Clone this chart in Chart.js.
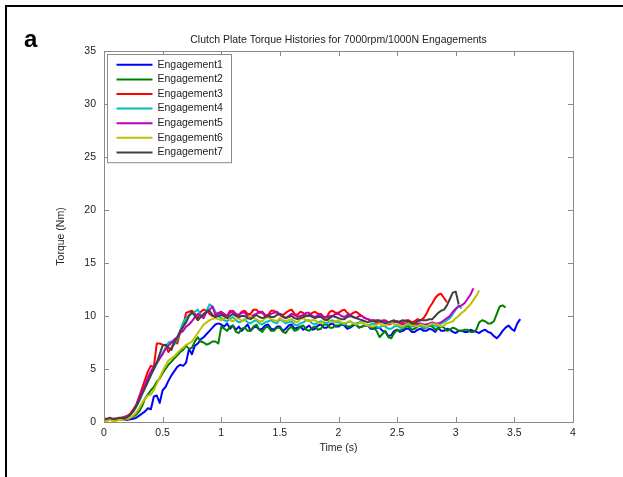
<!DOCTYPE html>
<html><head><meta charset="utf-8">
<script src="https://cdn.jsdelivr.net/npm/chart.js@4/dist/chart.umd.min.js"></script>
<style>html,body{margin:0;padding:0;background:#fff;}canvas{display:block;}</style>
</head><body>
<canvas id="c" width="623" height="477"></canvas>
<script>
// ---- data ----
const time = [0,0.025,0.05,0.075,0.1,0.125,0.15,0.175,0.2,0.225,
0.25,0.275,0.3,0.325,0.35,0.375,0.4,0.425,0.45,0.475,
0.5,0.525,0.55,0.575,0.6,0.625,0.65,0.675,0.7,0.725,
0.75,0.775,0.8,0.825,0.85,0.875,0.9,0.925,0.95,0.975,
1,1.025,1.05,1.075,1.1,1.125,1.15,1.175,1.2,1.225,
1.25,1.275,1.3,1.325,1.35,1.375,1.4,1.425,1.45,1.475,
1.5,1.525,1.55,1.575,1.6,1.625,1.65,1.675,1.7,1.725,
1.75,1.775,1.8,1.825,1.85,1.875,1.9,1.925,1.95,1.975,
2,2.025,2.05,2.075,2.1,2.125,2.15,2.175,2.2,2.225,
2.25,2.275,2.3,2.325,2.35,2.375,2.4,2.425,2.45,2.475,
2.5,2.525,2.55,2.575,2.6,2.625,2.65,2.675,2.7,2.725,
2.75,2.775,2.8,2.825,2.85,2.875,2.9,2.925,2.95,2.975,
3,3.025,3.05,3.075,3.1,3.125,3.15,3.175,3.2,3.225,
3.25,3.275,3.3,3.325,3.35,3.375,3.4,3.425,3.45,3.475,
3.5,3.525,3.55];
const seriesNames = ["Engagement1","Engagement2","Engagement3","Engagement4","Engagement5","Engagement6","Engagement7"];
const eng1 = [0.2,0.25,0.3,0.2,0.2,0.3,0.25,0.2,0.2,0.25,
0.3,0.4,0.6,0.8,1.0,1.3,1.2,2.4,2.5,1.8,
3.0,3.3,3.9,4.4,4.8,5.2,5.4,5.3,5.6,6.9,
6.4,7.2,7.4,7.8,8.0,8.3,8.6,8.9,9.2,9.3,
9.2,9.0,9.3,8.8,9.1,8.7,9.0,8.6,8.9,9.2,
8.6,8.9,9.0,8.7,8.8,9.1,9.2,8.8,8.7,9.0,
9.0,8.6,8.8,9.1,9.2,8.8,8.9,9.0,8.7,8.9,
9.1,8.7,8.8,9.1,9.2,8.9,8.9,9.2,9.3,9.0,
9.0,9.2,9.1,8.8,8.9,9.1,9.2,8.9,9.0,9.1,
9.1,8.8,8.8,8.9,8.9,8.6,8.5,8.1,8.2,8.6,
8.7,8.5,8.6,8.8,8.8,8.5,8.5,8.7,8.8,8.6,
8.6,8.8,8.7,8.5,8.9,8.6,8.6,8.8,8.7,8.5,
8.4,8.6,8.6,8.5,8.5,8.7,8.6,8.5,8.4,8.6,
8.7,8.5,8.4,8.1,7.9,8.2,8.6,8.9,9.1,8.8,
8.6,9.3,9.7];
const eng2 = [0.2,0.2,0.2,0.25,0.3,0.2,0.2,0.3,0.3,0.4,
0.5,0.7,1.0,1.5,2.2,2.6,3.0,3.3,3.8,4.1,
4.6,5.0,5.4,5.7,6.0,6.3,6.6,6.8,7.2,6.9,
7.0,7.6,8.0,7.6,7.5,7.3,7.4,7.6,7.6,7.4,
9.0,8.8,8.6,9.0,9.1,8.5,8.4,8.8,8.9,8.6,
8.6,9.0,9.2,8.7,8.5,8.9,9.0,8.6,8.6,8.9,
8.9,8.5,8.4,8.8,9.0,8.6,8.7,9.0,9.1,8.7,
8.6,8.9,9.0,8.7,8.8,9.2,9.2,8.9,8.9,9.1,
9.1,9.2,9.3,9.0,9.0,9.2,9.2,8.9,9.0,9.1,
9.1,8.9,8.9,8.6,8.0,8.3,8.6,8.0,7.9,8.4,
8.7,8.6,8.8,9.0,9.0,8.7,8.8,9.0,9.1,8.8,
8.9,9.1,9.0,8.7,8.8,9.0,8.9,8.6,8.7,8.9,
8.8,8.6,8.6,8.7,8.7,8.5,8.5,8.7,9.4,9.6,
9.5,9.3,9.3,9.5,10.2,10.9,11.0,10.8];
const eng3 = [0.2,0.2,0.2,0.3,0.3,0.3,0.4,0.5,0.6,0.8,
1.2,1.6,2.4,3.2,4.0,4.8,5.3,5.2,7.4,7.4,
7.3,7.2,6.6,7.0,7.6,7.4,8.5,9.0,10.3,10.4,
10.5,10.2,9.8,10.4,10.6,10.5,10.2,10.0,9.9,10.2,
10.3,10.0,10.0,10.5,10.4,10.1,10.1,10.4,10.5,10.2,
10.2,10.6,10.6,10.3,10.3,10.0,10.1,10.5,10.5,10.3,
10.2,10.1,10.3,10.5,10.6,10.2,10.1,10.4,10.3,10.0,
10.0,10.3,10.4,10.2,10.2,9.9,9.9,10.4,10.5,10.3,
10.3,10.5,10.6,10.3,10.1,10.3,10.4,10.2,10.0,9.8,
9.7,9.5,9.6,9.3,9.4,9.6,9.5,9.2,9.3,9.5,
9.5,9.3,9.4,9.6,9.6,9.4,9.5,9.7,9.6,9.8,
10.2,10.8,11.2,11.7,12.0,12.1,11.7,11.3];
const eng4 = [0.2,0.2,0.2,0.2,0.2,0.3,0.3,0.4,0.5,0.7,
1.0,1.4,2.0,2.8,3.4,4.0,4.6,5.0,5.5,6.0,
6.5,7.0,7.5,7.6,7.3,7.8,8.6,9.4,9.8,10.1,
10.2,10.4,10.6,10.1,10.0,10.5,11.1,10.9,10.4,10.0,
9.8,9.6,9.5,9.7,9.9,9.6,9.4,9.5,9.7,9.4,
9.3,9.5,9.6,9.3,9.2,9.4,9.5,9.6,9.4,9.3,
9.7,9.5,9.3,9.4,9.5,9.2,9.1,9.3,9.4,9.6,
9.6,9.3,9.2,9.4,9.5,9.4,9.3,9.5,9.6,9.4,
9.4,9.3,9.2,9.4,9.5,9.3,9.3,9.4,9.4,9.2,
9.1,9.2,9.3,9.0,8.9,9.1,9.0,8.8,8.8,9.0,
9.1,8.9,8.9,9.1,9.2,9.0,9.0,9.2,9.1,8.9,
8.9,9.1,9.2,9.0,9.1,9.3,9.4,9.6,9.8,10.2,
10.6,11.0,10.7];
const eng5 = [0.2,0.2,0.3,0.2,0.2,0.3,0.3,0.4,0.5,0.7,
1.1,1.6,2.3,2.9,3.5,4.2,4.8,5.2,5.6,6.0,
6.4,6.9,7.2,7.5,7.8,8.0,8.4,8.6,9.0,9.2,
9.5,9.9,10.2,10.0,9.8,10.4,10.6,10.9,10.1,10.3,
10.4,10.2,10.0,10.3,10.5,10.2,10.1,10.3,10.3,10.0,
9.9,10.1,10.2,10.4,10.4,10.1,10.0,10.2,10.3,10.4,
10.1,9.9,9.8,10.0,10.2,10.1,9.9,10.0,10.1,10.3,
10.3,10.0,9.9,10.1,10.1,9.9,9.8,10.0,10.0,10.2,
10.2,10.0,9.9,10.1,10.1,9.9,9.8,10.0,10.0,9.8,
9.7,9.6,9.6,9.5,9.4,9.5,9.6,9.4,9.3,9.4,
9.5,9.3,9.2,9.3,9.4,9.2,9.1,9.3,9.3,9.2,
9.2,9.3,9.4,9.3,9.3,9.4,9.6,9.8,10.0,10.4,
10.7,10.9,11.0,11.2,11.6,12.0,12.6];
const eng6 = [0.1,0.1,0.2,0.1,0.1,0.2,0.2,0.2,0.3,0.4,
0.6,0.9,1.3,1.8,2.2,2.5,2.6,3.0,3.6,4.2,
4.8,5.3,5.8,6.0,6.2,6.5,6.8,7.0,7.3,7.4,
7.6,8.0,8.4,8.8,9.2,9.4,9.6,9.7,9.8,9.7,
9.6,9.8,9.9,9.6,9.5,9.7,9.8,9.5,9.6,9.8,
10.0,9.8,9.7,9.5,9.5,9.8,9.9,9.7,9.6,9.5,
9.8,9.6,9.5,9.6,9.7,9.5,9.4,9.7,9.8,9.6,
9.5,9.6,9.6,9.4,9.3,9.5,9.7,9.5,9.4,9.5,
9.6,9.4,9.3,9.4,9.5,9.3,9.2,9.3,9.4,9.2,
9.1,9.0,9.0,9.2,9.3,9.1,9.1,9.3,9.4,9.2,
9.2,9.1,9.0,9.2,9.3,9.1,9.1,9.0,9.2,9.1,
9.0,9.2,9.3,9.2,9.2,9.0,9.1,9.3,9.4,9.5,
9.8,10.0,10.3,10.5,10.8,11.1,11.5,11.9,12.4];
const eng7 = [0.3,0.3,0.4,0.3,0.3,0.4,0.4,0.3,0.5,0.7,
1.0,1.5,2.0,2.6,3.2,3.8,4.4,5.0,5.6,6.4,
7.2,7.3,7.0,6.8,7.5,8.0,8.6,9.0,9.4,10.0,
10.4,10.0,9.6,9.9,10.2,10.4,10.5,10.1,9.9,10.0,
10.1,10.0,9.8,10.0,10.2,10.0,9.9,10.0,10.0,9.8,
9.7,9.9,10.1,9.9,9.8,9.9,10.0,9.9,9.9,10.1,
10.2,10.0,9.8,9.9,10.0,9.8,9.7,9.8,9.9,10.0,
10.1,9.9,9.8,9.9,9.9,9.7,9.6,9.8,10.0,9.9,
9.8,9.7,9.7,9.9,10.0,9.9,9.8,9.7,9.6,9.5,
9.4,9.5,9.5,9.6,9.6,9.4,9.3,9.4,9.5,9.6,
9.4,9.5,9.6,9.5,9.5,9.3,9.3,9.5,9.6,9.6,
9.6,9.7,9.7,10.0,10.3,10.5,10.6,11.0,11.6,12.2,
12.3,11.1];
const xTickValues = [0,0.5,1,1.5,2,2.5,3,3.5,4];
const yTickValues = [0,5,10,15,20,25,30,35];
const chartTitle = "Clutch Plate Torque Histories for 7000rpm/1000N Engagements";
const xTitle = "Time (s)";
const yTitle = "Torque (Nm)";
const panelLabel = "a";

// ---- styles ----
const seriesValues = [eng1,eng2,eng3,eng4,eng5,eng6,eng7];
const seriesColors = ["#0000ff","#008000","#ff0000","#00bfbf","#bf00bf","#bfbf00","#404040"];
const FONT = "'Liberation Sans', Arial, sans-serif";
const FS = 10.5;
const AXIS_COLOR = "#8a8a8a";

const datasets = seriesNames.map((name,i)=>({
  label: name,
  data: seriesValues[i].map((v,j)=>({x: time[j], y: v})),
  borderColor: seriesColors[i],
  backgroundColor: seriesColors[i],
  borderWidth: 2,
  borderJoinStyle: 'round',
  pointRadius: 0,
  tension: 0,
  fill: false,
  order: seriesNames.length - i
}));

const decor = {
  id: 'decor',
  beforeDraw(chart){
    const ctx = chart.ctx;
    ctx.save(); ctx.fillStyle = '#fff'; ctx.fillRect(0,0,chart.width,chart.height); ctx.restore();
  },
  afterDatasetsDraw(chart){
    const {ctx, chartArea:a, scales:{x,y}} = chart;
    ctx.save();
    ctx.strokeStyle = AXIS_COLOR; ctx.lineWidth = 1;
    ctx.strokeRect(Math.round(a.left)+0.5, Math.round(a.top)+0.5, Math.round(a.right-a.left), Math.round(a.bottom-a.top));
    const TL = 5;
    ctx.beginPath();
    x.ticks.forEach(t=>{
      const px = Math.round(x.getPixelForValue(t.value))+0.5;
      ctx.moveTo(px, a.bottom); ctx.lineTo(px, a.bottom-TL);
      ctx.moveTo(px, a.top); ctx.lineTo(px, a.top+TL);
    });
    y.ticks.forEach(t=>{
      const py = Math.round(y.getPixelForValue(t.value))+0.5;
      ctx.moveTo(a.left, py); ctx.lineTo(a.left+TL, py);
      ctx.moveTo(a.right, py); ctx.lineTo(a.right-TL, py);
    });
    ctx.stroke();
    // legend
    const lx = Math.round(a.left)+3.5, ly = Math.round(a.top)+3.5;
    const rowH = 14.6, lw = 124, lh = rowH*seriesNames.length + 6;
    ctx.fillStyle = '#fff';
    ctx.fillRect(lx, ly, lw, lh);
    ctx.strokeStyle = AXIS_COLOR;
    ctx.strokeRect(lx, ly, lw, lh);
    ctx.font = FS + "px " + FONT;
    ctx.textBaseline = 'middle'; ctx.textAlign = 'left';
    seriesNames.forEach((n,i)=>{
      const cy = ly + 3 + rowH*(i+0.5);
      ctx.strokeStyle = seriesColors[i]; ctx.lineWidth = 2;
      ctx.beginPath(); ctx.moveTo(lx+9, cy); ctx.lineTo(lx+45, cy); ctx.stroke();
      ctx.fillStyle = '#222';
      ctx.fillText(n, lx+50, cy);
    });
    ctx.restore();
  },
  afterDraw(chart){
    const {ctx, chartArea:a} = chart;
    ctx.save();
    ctx.fillStyle = '#222';
    ctx.font = FS + "px " + FONT;
    ctx.textAlign = 'center'; ctx.textBaseline = 'middle';
    ctx.fillText(chartTitle, (a.left+a.right)/2, a.top - 11);
    ctx.fillText(xTitle, (a.left+a.right)/2, a.bottom + 26);
    ctx.save();
    ctx.translate(a.left - 43, (a.top+a.bottom)/2);
    ctx.rotate(-Math.PI/2);
    ctx.fillText(yTitle, 0, 0);
    ctx.restore();
    ctx.fillStyle = '#000';
    ctx.font = "bold 24px " + FONT;
    ctx.textAlign = 'left'; ctx.textBaseline = 'alphabetic';
    ctx.fillText(panelLabel, 24, 47);
    ctx.fillStyle = '#000';
    ctx.fillRect(5, 5, 2, chart.height-5);
    ctx.fillRect(5, 5, chart.width-5, 2);
    ctx.restore();
  }
};

new Chart(document.getElementById('c'), {
  type: 'line',
  data: { datasets },
  options: {
    responsive: false,
    animation: false,
    layout: { padding: { left: 0, right: 50, top: 51, bottom: 0 } },
    plugins: { legend: { display: false }, title: { display: false }, tooltip: { enabled: false } },
    scales: {
      x: {
        type: 'linear', min: 0, max: 4,
        afterBuildTicks: s => { s.ticks = xTickValues.map(v=>({value:v})); },
        afterFit: s => { s.height = 477 - 422; },
        grid: { display: false, drawTicks: false, tickLength: 0 },
        border: { display: false },
        ticks: { padding: 5, color: '#222', font: { family: FONT, size: FS }, maxRotation: 0, autoSkip: false,
                 callback: v => String(v) }
      },
      y: {
        type: 'linear', min: 0, max: 35,
        afterBuildTicks: s => { s.ticks = yTickValues.map(v=>({value:v})); },
        afterFit: s => { s.width = 104; },
        grid: { display: false, drawTicks: false, tickLength: 0 },
        border: { display: false },
        ticks: { padding: 8, color: '#222', font: { family: FONT, size: FS }, autoSkip: false,
                 callback: v => String(v) }
      }
    }
  },
  plugins: [decor]
});
</script>
</body></html>
